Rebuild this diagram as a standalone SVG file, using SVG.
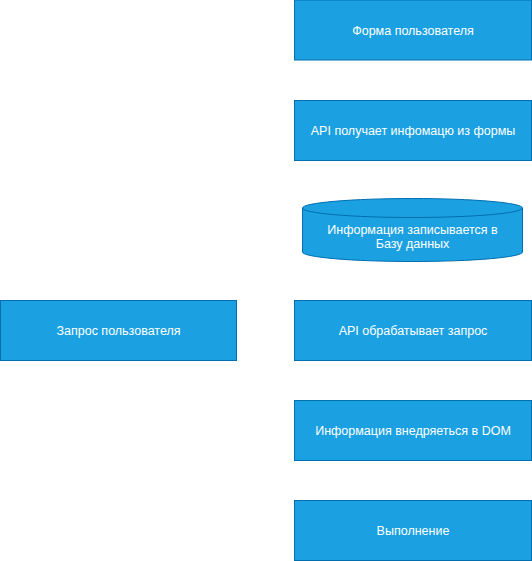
<svg xmlns="http://www.w3.org/2000/svg" width="532" height="561" viewBox="0 0 532 561">
<defs>
<style>
.n{fill:#1BA1E2;stroke:#006EAF;stroke-width:1}
.t{fill:#FFFFFF;font-family:"Liberation Sans",Arial,sans-serif;font-size:12.5px;text-anchor:middle}
.c{stroke:#FFFFFF;stroke-width:1;fill:none;marker-end:url(#a)}
</style>
<marker id="a" markerWidth="8" markerHeight="8" refX="7" refY="4" orient="auto" markerUnits="userSpaceOnUse">
<path d="M0,0 L8,4 L0,8 L2,4 Z" fill="#FFFFFF"/>
</marker>
</defs>
<rect width="532" height="561" fill="#FFFFFF"/>
<g id="connectors">
<path class="c" d="M412.5,60 L412.5,99"/>
<path class="c" d="M412.5,160 L412.5,198"/>
<path class="c" d="M412.5,262 L412.5,299"/>
<path class="c" d="M412.5,360 L412.5,399"/>
<path class="c" d="M412.5,460 L412.5,499"/>
<path class="c" d="M237,330 L293,330"/>
</g>
<g id="n1">
<rect class="n" x="294.5" y="0" width="237" height="60"/>
<text class="t" x="413" y="34.5">Форма пользователя</text>
</g>
<g id="n2">
<rect class="n" x="294.5" y="100.5" width="237" height="60"/>
<text class="t" x="413" y="134.5">API получает инфомацю из формы</text>
</g>
<g id="n3">
<path class="n" d="M302.5,208 A110,9.5 0 0 1 522.5,208 L522.5,252 A110,9.5 0 0 1 302.5,252 Z"/>
<path d="M302.5,208 A110,9.5 0 0 0 522.5,208" fill="none" stroke="#006EAF" stroke-width="1"/>
<text class="t" x="412.5" y="234">Информация записывается в</text>
<text class="t" x="412.5" y="248">Базу данных</text>
</g>
<g id="n4">
<rect class="n" x="294.5" y="300.5" width="237" height="60"/>
<text class="t" x="413" y="334.5">API обрабатывает запрос</text>
</g>
<g id="n5">
<rect class="n" x="294.5" y="400.5" width="237" height="60"/>
<text class="t" x="413" y="434.5">Информация внедряеться в DOM</text>
</g>
<g id="n6">
<rect class="n" x="294.5" y="500.5" width="237" height="60"/>
<text class="t" x="413" y="534.5">Выполнение</text>
</g>
<g id="n7">
<rect class="n" x="0.5" y="300.5" width="236" height="60"/>
<text class="t" x="118.5" y="334.5">Запрос пользователя</text>
</g>
</svg>
